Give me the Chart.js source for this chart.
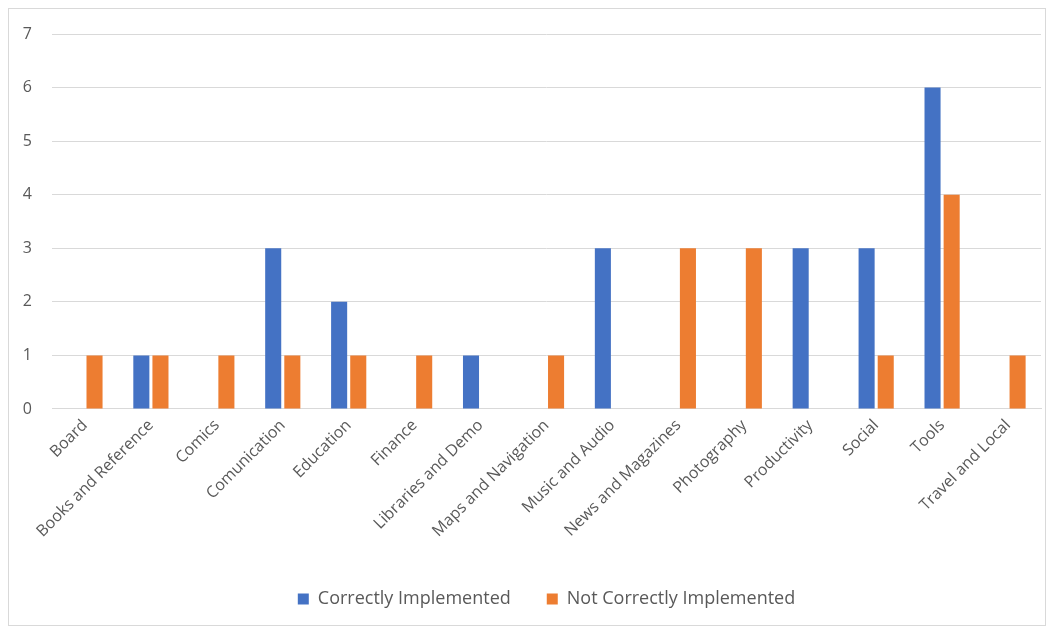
<!DOCTYPE html>
<html>
<head>
<meta charset="utf-8">
<script src="https://cdn.jsdelivr.net/npm/chart.js@4/dist/chart.umd.min.js"></script>
<style>
  html, body { margin: 0; padding: 0; background: #ffffff; }
  #frame {
    position: absolute; left: 8px; top: 8px;
    width: 1036px; height: 616px;
    border: 1px solid #d9d9d9; background: #ffffff;
  }
  #chart { display: block; }
</style>
</head>
<body>
<div id="frame"><canvas id="chart" width="1036" height="616"></canvas></div>
<script>
// App categories and how many features in each were implemented correctly
const categories = [
  "Board", "Books and Reference", "Comics", "Comunication", "Education",
  "Finance", "Libraries and Demo", "Maps and Navigation", "Music and Audio",
  "News and Magazines", "Photography", "Productivity", "Social", "Tools",
  "Travel and Local"
];
const correctlyImplemented    = [0, 1, 0, 3, 2, 0, 1, 0, 3, 0, 0, 3, 3, 6, 0];
const notCorrectlyImplemented = [1, 1, 1, 1, 1, 1, 0, 1, 0, 3, 3, 0, 1, 4, 1];
const yTicks = [0, 1, 2, 3, 4, 5, 6, 7];

const textColor = "#595959";
const gridColor = "#d9d9d9";
const fontFamily = "'Open Sans', 'Noto Sans', sans-serif";

new Chart(document.getElementById("chart"), {
  type: "bar",
  data: {
    labels: categories,
    datasets: [
      {
        label: "Correctly Implemented",
        data: correctlyImplemented,
        backgroundColor: "#4472C4",
        barPercentage: 0.84,
        categoryPercentage: 0.58
      },
      {
        label: "Not Correctly Implemented",
        data: notCorrectlyImplemented,
        backgroundColor: "#ED7D31",
        barPercentage: 0.84,
        categoryPercentage: 0.58
      }
    ]
  },
  options: {
    responsive: false,
    animation: false,
    layout: { padding: { left: 8, right: 4, top: 25, bottom: 7 } },
    plugins: {
      tooltip: { enabled: false },
      legend: {
        position: "bottom",
        fullSize: false,
        labels: {
          color: textColor,
          font: { family: fontFamily, size: 18 },
          boxWidth: 11,
          boxHeight: 11,
          padding: 36
        }
      }
    },
    scales: {
      x: {
        grid: { display: false, drawTicks: false },
        border: { color: gridColor, width: 1 },
        ticks: {
          color: textColor,
          font: { family: fontFamily, size: 16 },
          maxRotation: 45,
          minRotation: 45,
          padding: 7,
          autoSkip: false
        },
        afterFit: (axis) => {
          axis.paddingLeft = 0;
          axis.paddingRight = 0;
          axis.height += 6;
        }
      },
      y: {
        min: 0,
        max: 7,
        afterBuildTicks: (axis) => { axis.ticks = yTicks.map(v => ({ value: v })); },
        afterFit: (axis) => {
          axis.width = 35;
          axis.paddingTop = 0;
        },
        grid: { color: gridColor, lineWidth: 1, drawTicks: false },
        border: { display: false },
        ticks: {
          color: textColor,
          font: { family: fontFamily, size: 16 },
          padding: 20
        }
      }
    }
  }
});
</script>
</body>
</html>
